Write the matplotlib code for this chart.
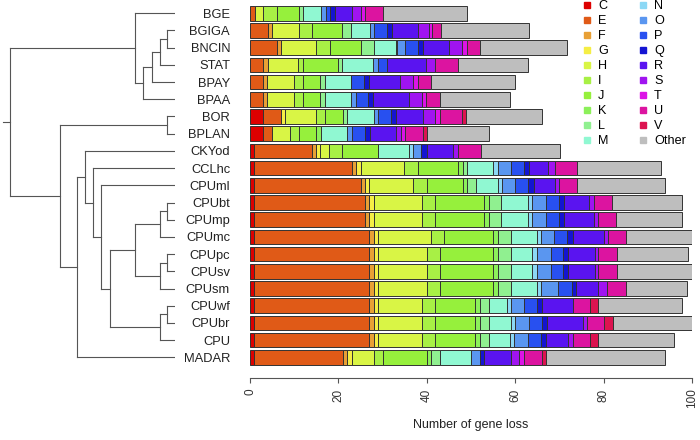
import matplotlib
matplotlib.use('Agg')
import matplotlib.pyplot as plt
from matplotlib.lines import Line2D
import numpy as np

plt.rcParams['font.family'] = ['Liberation Sans', 'DejaVu Sans']

species = ['BGE', 'BGIGA', 'BNCIN', 'STAT', 'BPAY', 'BPAA', 'BOR', 'BPLAN', 'CKYod',
           'CCLhc', 'CPUml', 'CPUbt', 'CPUmp', 'CPUmc', 'CPUpc', 'CPUsv', 'CPUsm',
           'CPUwf', 'CPUbr', 'CPU', 'MADAR']

categories = ['C', 'E', 'F', 'G', 'H', 'I', 'J', 'K', 'L', 'M',
              'N', 'O', 'P', 'Q', 'R', 'S', 'T', 'U', 'V', 'Other']

colors = ['#DD0000', '#E05A17', '#E8A035', '#F5EE45', '#D9F545', '#A8F045', '#96F03C',
          '#8CF05A', '#90F090', '#90F8D2', '#8CD8F5', '#5A96F0', '#2850F0', '#1414D2',
          '#5A14F0', '#A014F0', '#DC14E6', '#DC14A0', '#DC1450', '#BEBEBE']

# gene loss per category, one value per species (top to bottom)
C = [0, 0, 0, 0, 0, 0, 3, 3, 1, 1, 1, 1, 1, 1, 1, 1, 1, 1, 1, 1, 1]
E = [1.1, 4, 6, 3, 3, 3, 4.1, 2, 13, 22, 24, 25, 25, 26, 26, 26, 26, 26, 26, 26, 20]
F = [0, 1, 1.1, 1, 0.8, 0.8, 0, 0, 0.9, 1, 1, 1, 1, 1, 1, 1, 1, 1, 1, 1, 1]
G = [0, 0, 0, 0, 0, 0, 0.9, 0, 1, 1, 1, 1, 1, 1, 1, 1, 1, 1, 1, 1, 1]
H = [1.9, 6, 7.9, 6.9, 6.2, 6.2, 7, 4, 2, 9.9, 9.9, 10.9, 10.9, 12, 11, 11, 11, 9.9, 9.9, 9.9, 5]
I = [3, 3.1, 3, 1, 1.9, 1.9, 2, 2, 3, 3.2, 3.2, 3, 3, 3, 3, 3, 3, 3, 3, 3, 2]
J = [5.1, 6.8, 7, 8, 4, 4, 4, 4, 8.1, 8.9, 8, 11, 11, 10.9, 11.9, 11.9, 11.9, 9.1, 9.1, 9.1, 10]
K = [0, 0, 0, 0, 0, 0, 0, 1, 0, 1.1, 0.9, 1.1, 1.1, 1.1, 1.1, 1.1, 1.1, 1.1, 1.1, 1.1, 1]
L = [1, 2, 3, 1, 1, 1, 1, 0, 0, 0.9, 2.1, 2.9, 2.9, 3, 3, 3, 3, 1.9, 1.9, 1.9, 2]
M = [4, 4.2, 5, 7, 6, 6, 6, 6, 6.9, 6, 5, 5.9, 5.9, 5.9, 4.9, 4.9, 5.9, 4.1, 5.1, 4.9, 7]
N = [0, 0, 0.3, 0, 0, 0, 0, 0, 1, 1.1, 0.9, 1.1, 1.1, 1, 1, 1, 1, 1, 0.9, 0.9, 0]
O = [1, 1, 1.7, 1, 0, 1, 1, 1.1, 1.9, 3, 3, 3, 3, 2.9, 3.2, 3.2, 3.8, 2.9, 3.2, 3.2, 2]
P = [1, 3, 3, 2, 3, 2.8, 2.9, 3, 0, 2.9, 3, 3, 3, 2.9, 2.8, 2.8, 3.2, 3, 2.9, 2.9, 0]
Q = [1.1, 1, 1.1, 0, 1, 1.2, 1.1, 1, 1.3, 1.1, 1.2, 1.1, 1.1, 1.3, 1.1, 1.1, 0.9, 1, 1.1, 1.1, 1]
R = [3.8, 6, 6, 9, 7.1, 8.1, 6.1, 6, 5.9, 4.3, 4.7, 5.8, 6.9, 7, 6, 6, 5, 7, 8.1, 4.9, 6]
S = [2.1, 2.3, 2.9, 2, 2.9, 3, 2.8, 1, 1.1, 1.7, 1.1, 1.1, 0.8, 1.1, 0.8, 0.8, 2, 0, 0.9, 1.1, 1.9]
T = [0.9, 0.8, 1, 0, 1, 0.9, 1.1, 0.9, 0, 0, 0, 0, 0, 0, 0, 0, 0, 0, 0, 0, 1]
U = [4.1, 2, 3, 5.1, 3, 3, 5, 4.1, 5.1, 4.9, 4, 4, 4.2, 4, 4.2, 4.2, 4.2, 3.9, 3.9, 3.9, 4.1]
V = [0, 0, 0, 0, 0, 0, 0.9, 0.9, 0, 0, 0, 0, 0, 0, 0, 0, 0, 1.9, 2.1, 1.9, 1]
Other = [18.9, 20, 19.8, 16, 19, 15.9, 17.1, 14, 18, 19, 20, 15.8, 14.9, 14.9, 16, 17, 13.9, 19, 17.9, 17.1, 27]

values = [C, E, F, G, H, I, J, K, L, M, N, O, P, Q, R, S, T, U, V, Other]

# clustering tree: (height, left, right), leaves are species names
tree = (1.0,
        (0.242, 'BGE',
         (0.194, (0.139, (0.091, (0.048, 'BGIGA', 'BNCIN'), 'STAT'), 'BPAY'), 'BPAA')),
        (0.697, (0.048, 'BOR', 'BPLAN'),
         (0.594,
          (0.545, 'CKYod',
           (0.499, 'CCLhc',
            (0.45, 'CPUml',
             (0.394,
              (0.242,
               (0.091, (0.048, 'CPUbt', 'CPUmp'), 'CPUmc'),
               (0.091, (0.048, 'CPUpc', 'CPUsv'), 'CPUsm')),
              (0.091, (0.048, 'CPUwf', 'CPUbr'), 'CPU'))))),
          'MADAR')))

fig = plt.figure(figsize=(7, 4.4), dpi=100)
W, Hgt = 700.0, 440.0
top_px, bot_px = 4.7, 365.9
ax = fig.add_axes([250 / W, 1 - bot_px / Hgt, 442 / W, (bot_px - top_px) / Hgt])

ypos = np.arange(len(species))
left = np.zeros(len(species))
for vals, col in zip(values, colors):
    vals = np.array(vals, dtype=float)
    m = vals > 0
    ax.barh(ypos[m], vals[m], left=left[m], height=0.85, color=col,
            edgecolor='#333333', linewidth=0.7)
    left += vals

ax.set_xlim(0, 100)
ax.set_ylim(len(species) - 0.5, -0.5)
for s in ['top', 'right', 'left']:
    ax.spines[s].set_visible(False)
ax.spines['bottom'].set_position(('outward', 8.6))
ax.spines['bottom'].set_bounds(0, 100)
ax.spines['bottom'].set_color('#555555')
ax.set_xticks([0, 20, 40, 60, 80, 100])
ax.tick_params(axis='x', length=3.6, width=0.8, color='#555555', labelcolor='#333333',
               labelsize=8.5, labelrotation=90, pad=4)
ax.set_yticks(ypos)
ax.set_yticklabels(species)
ax.tick_params(axis='y', length=0, pad=14.4, labelsize=9.3, labelcolor='#222222')
ax.set_xlabel('Number of gene loss', fontsize=9, color='#222222')
ax.xaxis.set_label_coords(0.5, -0.148)

handles = [Line2D([], [], marker='s', ls='', color=c, markersize=4.5) for c in colors]
ax.legend(handles, categories, ncol=2, loc='upper left', frameon=False, fontsize=9.1,
          bbox_to_anchor=(581.6 / W, 1.0), bbox_transform=fig.transFigure,
          borderpad=0, borderaxespad=0, handlelength=0.8, handletextpad=0.49,
          columnspacing=2.33, labelspacing=0.24)

# dendrogram
axd = fig.add_axes([0, 1 - bot_px / Hgt, 175 / W, (bot_px - top_px) / Hgt])
axd.set_xlim(175 / 165, 0)
axd.set_ylim(len(species) - 0.5, -0.5)
axd.axis('off')
lc = '#555555'


def draw(node):
    if isinstance(node, str):
        return species.index(node), 0.0
    h, a, b = node
    ya, ha = draw(a)
    yb, hb = draw(b)
    axd.plot([ha, h], [ya, ya], color=lc, lw=0.8)
    axd.plot([hb, h], [yb, yb], color=lc, lw=0.8)
    axd.plot([h, h], [ya, yb], color=lc, lw=0.8)
    return (ya + yb) / 2, h


yr, hr = draw(tree)
axd.plot([hr, hr + 0.044], [yr, yr], color=lc, lw=0.8)

fig.savefig('out.png', dpi=100)
